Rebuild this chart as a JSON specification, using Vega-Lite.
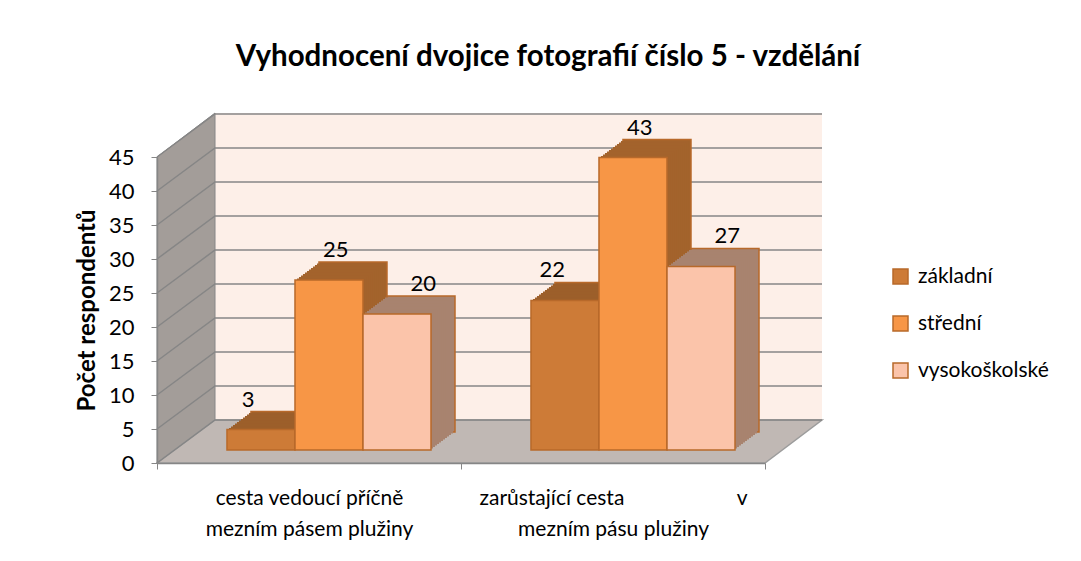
{
  "$schema": "https://vega.github.io/schema/vega-lite/v6.json",
  "width": 608,
  "height": 306,
  "autosize": {"type": "none"},
  "padding": {"left": 157, "top": 157, "right": 316, "bottom": 98},
  "background": "white",
  "title": {
    "text": "Vyhodnocení dvojice fotografií číslo 5 - vzdělání",
    "font": "Lato",
    "fontSize": 29.5,
    "fontWeight": "bold",
    "color": "black",
    "anchor": "middle",
    "frame": "group",
    "dx": 87,
    "offset": 39
  },
  "datasets": {
    "hodnoty": [
      {"cesta": "cesta vedoucí příčně mezním pásem plužiny", "vzdelani": "základní", "pocet": 3},
      {"cesta": "cesta vedoucí příčně mezním pásem plužiny", "vzdelani": "střední", "pocet": 25},
      {"cesta": "cesta vedoucí příčně mezním pásem plužiny", "vzdelani": "vysokoškolské", "pocet": 20},
      {"cesta": "zarůstající cesta v mezním pásu plužiny", "vzdelani": "základní", "pocet": 22},
      {"cesta": "zarůstající cesta v mezním pásu plužiny", "vzdelani": "střední", "pocet": 43},
      {"cesta": "zarůstající cesta v mezním pásu plužiny", "vzdelani": "vysokoškolské", "pocet": 27}
    ],
    "ticks": [{"tick": 0}, {"tick": 5}, {"tick": 10}, {"tick": 15}, {"tick": 20}, {"tick": 25}, {"tick": 30}, {"tick": 35}, {"tick": 40}, {"tick": 45}],
    "zed": [{"tick": 0}]
  },
  "layer": [
    {
      "data": {"name": "zed"},
      "mark": {"type": "point", "shape": "M-246,-43 L361,-43 L361,-350 L-246,-350 Z", "size": 4, "filled": true, "opacity": 1, "fill": "#FDEFE8", "strokeWidth": 0},
      "encoding": {"y": {"field": "tick", "type": "quantitative", "axis": null}}
    },
    {
      "data": {"name": "zed"},
      "mark": {"type": "point", "shape": "M-304,0 L-246,-43 L-246,-350 L-304,-306 Z", "size": 4, "filled": true, "opacity": 1, "fill": "#A39D99", "stroke": "#868686", "strokeWidth": 1},
      "encoding": {"y": {"field": "tick", "type": "quantitative", "axis": null}}
    },
    {
      "data": {"name": "zed"},
      "mark": {"type": "point", "shape": "M-304,0 L304,0 L361,-43 L-246,-43 Z", "size": 4, "filled": true, "opacity": 1, "fill": "#C0B8B4", "stroke": "#9C9C9C", "strokeWidth": 1.5},
      "encoding": {"y": {"field": "tick", "type": "quantitative", "axis": null}}
    },
    {
      "data": {"name": "ticks"},
      "mark": {"type": "point", "shape": "M-304,0 L-246,-43 L361,-43", "size": 4, "filled": false, "opacity": 1, "color": "#868686", "strokeWidth": 1.5},
      "encoding": {"y": {"field": "tick", "type": "quantitative", "axis": null}}
    },
    {
      "data": {"name": "hodnoty"},
      "encoding": {
        "x": {
          "field": "cesta",
          "type": "nominal",
          "sort": null,
          "scale": {"paddingInner": 0, "paddingOuter": 0},
          "axis": {
            "title": null,
            "zindex": 1,
            "labelAngle": 0,
            "labelFont": "Lato",
            "labelFontSize": 21,
            "labelColor": "black",
            "labelLineHeight": 31,
            "labelPadding": 18,
            "labelLimit": 0,
            "labelOverlap": false,
            "tickBand": "extent",
            "tickSize": 6,
            "tickColor": "#868686",
            "domainColor": "#868686",
            "domainWidth": 1.5,
            "grid": false,
            "labelExpr": "datum.value == 'cesta vedoucí příčně mezním pásem plužiny' ? ['cesta vedoucí příčně\u00a0\u00a0\u00a0\u00a0\u00a0\u00a0', 'mezním pásem plužiny\u00a0\u00a0\u00a0\u00a0\u00a0\u00a0'] : datum.value == 'zarůstající cesta v mezním pásu plužiny' ? ['zarůstající cesta\u00a0\u00a0\u00a0\u00a0\u00a0\u00a0\u00a0\u00a0\u00a0\u00a0\u00a0\u00a0\u00a0\u00a0\u00a0\u00a0\u00a0\u00a0\u00a0\u00a0\u00a0v', 'mezním pásu plužiny'] : ''"
          }
        },
        "xOffset": {
          "field": "vzdelani",
          "type": "nominal",
          "sort": ["základní", "střední", "vysokoškolské"],
          "scale": {"paddingInner": 0, "paddingOuter": 0.735, "align": 0.7}
        },
        "y": {
          "field": "pocet",
          "type": "quantitative",
          "scale": {"domain": [0, 45], "nice": false},
          "axis": {
            "orient": "left",
            "title": "Počet respondentů",
            "zindex": 1,
            "grid": false,
            "titleFont": "Lato",
            "titleFontSize": 24,
            "titleFontWeight": "bold",
            "titleColor": "black",
            "titleX": -70,
            "titleY": 153,
            "titleBaseline": "middle",
            "values": [0, 5, 10, 15, 20, 25, 30, 35, 40, 45],
            "labelOverlap": false,
            "labelFont": "Lato",
            "labelFontSize": 22,
            "labelColor": "black",
            "labelPadding": 17,
            "tickSize": 6,
            "tickColor": "#868686",
            "domainColor": "#868686",
            "domainWidth": 1.5
          }
        }
      },
      "layer": [
        {"mark": {"type": "bar", "yOffset": -31, "y2Offset": -31, "stroke": "#B8692A", "strokeWidth": 1.5},
         "encoding": {
           "xOffset": {"field": "vzdelani", "type": "nominal", "sort": ["základní", "střední", "vysokoškolské"], "scale": {"paddingInner": 0, "paddingOuter": 0.735, "align": 0.94}},
           "color": {"field": "vzdelani", "type": "nominal", "legend": null, "scale": {"domain": ["základní", "střední", "vysokoškolské"], "range": ["#9C5F2A", "#A3632C", "#A8836F"]}}}},
        {"mark": {"type": "bar", "yOffset": -29.5, "y2Offset": -29.5},
         "encoding": {
           "xOffset": {"field": "vzdelani", "type": "nominal", "sort": ["základní", "střední", "vysokoškolské"], "scale": {"paddingInner": 0, "paddingOuter": 0.735, "align": 0.92}},
           "color": {"field": "vzdelani", "type": "nominal", "legend": null, "scale": {"domain": ["základní", "střední", "vysokoškolské"], "range": ["#9C5F2A", "#A3632C", "#A8836F"]}}}},
        {"mark": {"type": "bar", "yOffset": -28, "y2Offset": -28},
         "encoding": {
           "xOffset": {"field": "vzdelani", "type": "nominal", "sort": ["základní", "střední", "vysokoškolské"], "scale": {"paddingInner": 0, "paddingOuter": 0.735, "align": 0.90}},
           "color": {"field": "vzdelani", "type": "nominal", "legend": null, "scale": {"domain": ["základní", "střední", "vysokoškolské"], "range": ["#9C5F2A", "#A3632C", "#A8836F"]}}}},
        {"mark": {"type": "bar", "yOffset": -26.5, "y2Offset": -26.5},
         "encoding": {
           "xOffset": {"field": "vzdelani", "type": "nominal", "sort": ["základní", "střední", "vysokoškolské"], "scale": {"paddingInner": 0, "paddingOuter": 0.735, "align": 0.88}},
           "color": {"field": "vzdelani", "type": "nominal", "legend": null, "scale": {"domain": ["základní", "střední", "vysokoškolské"], "range": ["#9C5F2A", "#A3632C", "#A8836F"]}}}},
        {"mark": {"type": "bar", "yOffset": -25, "y2Offset": -25},
         "encoding": {
           "xOffset": {"field": "vzdelani", "type": "nominal", "sort": ["základní", "střední", "vysokoškolské"], "scale": {"paddingInner": 0, "paddingOuter": 0.735, "align": 0.86}},
           "color": {"field": "vzdelani", "type": "nominal", "legend": null, "scale": {"domain": ["základní", "střední", "vysokoškolské"], "range": ["#9C5F2A", "#A3632C", "#A8836F"]}}}},
        {"mark": {"type": "bar", "yOffset": -23.5, "y2Offset": -23.5},
         "encoding": {
           "xOffset": {"field": "vzdelani", "type": "nominal", "sort": ["základní", "střední", "vysokoškolské"], "scale": {"paddingInner": 0, "paddingOuter": 0.735, "align": 0.84}},
           "color": {"field": "vzdelani", "type": "nominal", "legend": null, "scale": {"domain": ["základní", "střední", "vysokoškolské"], "range": ["#9C5F2A", "#A3632C", "#A8836F"]}}}},
        {"mark": {"type": "bar", "yOffset": -22, "y2Offset": -22},
         "encoding": {
           "xOffset": {"field": "vzdelani", "type": "nominal", "sort": ["základní", "střední", "vysokoškolské"], "scale": {"paddingInner": 0, "paddingOuter": 0.735, "align": 0.82}},
           "color": {"field": "vzdelani", "type": "nominal", "legend": null, "scale": {"domain": ["základní", "střední", "vysokoškolské"], "range": ["#9C5F2A", "#A3632C", "#A8836F"]}}}},
        {"mark": {"type": "bar", "yOffset": -20.5, "y2Offset": -20.5},
         "encoding": {
           "xOffset": {"field": "vzdelani", "type": "nominal", "sort": ["základní", "střední", "vysokoškolské"], "scale": {"paddingInner": 0, "paddingOuter": 0.735, "align": 0.80}},
           "color": {"field": "vzdelani", "type": "nominal", "legend": null, "scale": {"domain": ["základní", "střední", "vysokoškolské"], "range": ["#9C5F2A", "#A3632C", "#A8836F"]}}}},
        {"mark": {"type": "bar", "yOffset": -19, "y2Offset": -19},
         "encoding": {
           "xOffset": {"field": "vzdelani", "type": "nominal", "sort": ["základní", "střední", "vysokoškolské"], "scale": {"paddingInner": 0, "paddingOuter": 0.735, "align": 0.78}},
           "color": {"field": "vzdelani", "type": "nominal", "legend": null, "scale": {"domain": ["základní", "střední", "vysokoškolské"], "range": ["#9C5F2A", "#A3632C", "#A8836F"]}}}},
        {"mark": {"type": "bar", "yOffset": -17.5, "y2Offset": -17.5},
         "encoding": {
           "xOffset": {"field": "vzdelani", "type": "nominal", "sort": ["základní", "střední", "vysokoškolské"], "scale": {"paddingInner": 0, "paddingOuter": 0.735, "align": 0.76}},
           "color": {"field": "vzdelani", "type": "nominal", "legend": null, "scale": {"domain": ["základní", "střední", "vysokoškolské"], "range": ["#9C5F2A", "#A3632C", "#A8836F"]}}}},
        {"mark": {"type": "bar", "yOffset": -16, "y2Offset": -16},
         "encoding": {
           "xOffset": {"field": "vzdelani", "type": "nominal", "sort": ["základní", "střední", "vysokoškolské"], "scale": {"paddingInner": 0, "paddingOuter": 0.735, "align": 0.74}},
           "color": {"field": "vzdelani", "type": "nominal", "legend": null, "scale": {"domain": ["základní", "střední", "vysokoškolské"], "range": ["#9C5F2A", "#A3632C", "#A8836F"]}}}},
        {"mark": {"type": "bar", "yOffset": -14.5, "y2Offset": -14.5},
         "encoding": {
           "xOffset": {"field": "vzdelani", "type": "nominal", "sort": ["základní", "střední", "vysokoškolské"], "scale": {"paddingInner": 0, "paddingOuter": 0.735, "align": 0.72}},
           "color": {"field": "vzdelani", "type": "nominal", "legend": null, "scale": {"domain": ["základní", "střední", "vysokoškolské"], "range": ["#9C5F2A", "#A3632C", "#A8836F"]}}}},
        {
          "mark": {"type": "bar", "yOffset": -13, "y2Offset": -13, "stroke": "#B8692A", "strokeWidth": 1.5},
          "encoding": {
            "color": {
              "field": "vzdelani",
              "type": "nominal",
              "scale": {
                "domain": ["základní", "střední", "vysokoškolské"],
                "range": ["#CD7B37", "#F79646", "#FBC4AA"]
              },
              "legend": {
                "title": null,
                "orient": "none",
                "legendX": 733,
                "legendY": 109,
                "symbolType": "square",
                "symbolSize": 225,
                "symbolStrokeColor": "#B8692A",
                "symbolStrokeWidth": 1.5,
                "symbolOpacity": 1,
                "labelFont": "Lato",
                "labelFontSize": 21,
                "labelColor": "black",
                "labelOffset": 7,
                "rowPadding": 25
              }
            }
          }
        },
        {
          "mark": {"type": "text", "baseline": "bottom", "dx": 1, "dy": -31, "font": "Lato", "fontSize": 22, "color": "black"},
          "encoding": {"text": {"field": "pocet", "type": "quantitative"}}
        }
      ],
      "resolve": {"scale": {"xOffset": "independent", "color": "independent"}}
    }
  ],
  "resolve": {"axis": {"y": "independent"}},
  "config": {
    "view": {"fill": null, "stroke": null}
  }
}
